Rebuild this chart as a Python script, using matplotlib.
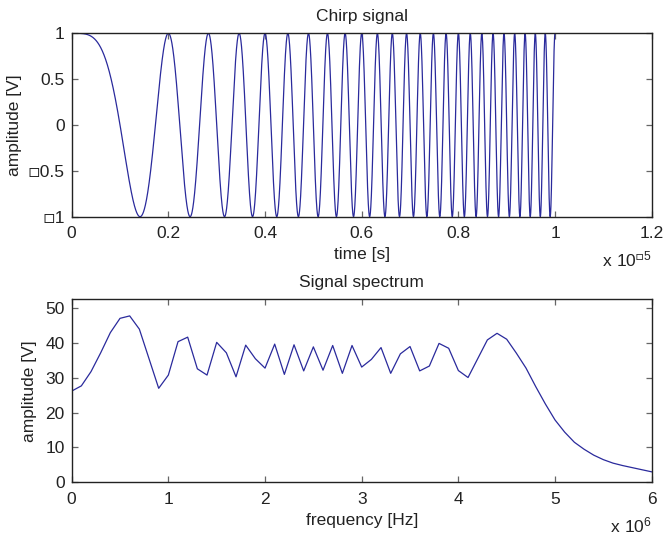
import numpy as np
import matplotlib
matplotlib.use("Agg")
import matplotlib.pyplot as plt

plt.rcParams['font.family'] = ['Liberation Sans', 'DejaVu Sans']
plt.rcParams['mathtext.fontset'] = 'custom'
plt.rcParams['mathtext.rm'] = 'Liberation Sans'

BOX = '\u25fd'

# --- chirp parameters ---
chirp_f_start = 0.0        # Hz
chirp_f_end = 5.0e6        # Hz
chirp_duration = 1.0e-5    # s

time_ticks = [0, 0.2e-5, 0.4e-5, 0.6e-5, 0.8e-5, 1.0e-5, 1.2e-5]
time_tick_labels = ['0', '0.2', '0.4', '0.6', '0.8', '1', '1.2']
amp_ticks = [-1, -0.5, 0, 0.5, 1]
amp_tick_labels = [BOX + '1', BOX + '0.5', '0', '0.5', '1']

# --- magnitude spectrum, 0.1 MHz bins ---
freq_hz = np.round(np.arange(61) * 0.1, 1) * 1e6
spectrum = [
    26.2, 27.7, 31.8, 37.2, 43.0, 47.1, 47.8, 44.0, 35.5, 27.0,
    30.8, 40.4, 41.7, 32.6, 30.8, 40.2, 37.2, 30.3, 39.4, 35.5,
    32.8, 39.7, 31.0, 39.5, 32.0, 38.9, 32.2, 39.3, 31.3, 39.3,
    33.1, 35.3, 38.7, 31.3, 36.9, 39.0, 32.0, 33.4, 39.9, 38.5,
    32.1, 30.1, 35.5, 40.9, 42.8, 41.1, 37.1, 32.8, 27.5, 22.5,
    17.9, 14.4, 11.5, 9.5, 7.8, 6.5, 5.5, 4.8, 4.2, 3.6,
    3.0,
]
freq_ticks = [0, 1e6, 2e6, 3e6, 4e6, 5e6, 6e6]
freq_tick_labels = ['0', '1', '2', '3', '4', '5', '6']
spec_ticks = [0, 10, 20, 30, 40, 50]

line_color = '#2a2a9c'
text_color = '#222222'
fs = 12.5

fig = plt.figure(figsize=(6.65, 5.37), dpi=100)
ax1 = fig.add_axes([0.1078, 0.5965, 0.8722, 0.3415])
ax2 = fig.add_axes([0.1078, 0.1019, 0.8722, 0.3408])


def style(ax):
    for s in ax.spines.values():
        s.set_color(text_color)
        s.set_linewidth(1.0)
    ax.tick_params(direction='in', length=4, width=0.9, color='#666666',
                   top=True, right=True, labelsize=fs, labelcolor=text_color)
    ax.tick_params(axis='x', pad=7)
    ax.tick_params(axis='y', pad=5)


# chirp
t = np.linspace(0, chirp_duration, 6001)
rate = (chirp_f_end - chirp_f_start) / chirp_duration
signal = np.cos(2 * np.pi * (chirp_f_start * t + 0.5 * rate * t ** 2))
ax1.plot(t, signal, color=line_color, lw=0.9)
ax1.set_xlim(0, 1.2e-5)
ax1.set_ylim(-1, 1)
ax1.set_xticks(time_ticks)
ax1.set_xticklabels(time_tick_labels)
ax1.set_yticks(amp_ticks)
ax1.set_yticklabels(amp_tick_labels)
ax1.set_title('Chirp signal', fontsize=fs, color=text_color, pad=9)
ax1.set_xlabel('time [s]', fontsize=fs, color=text_color, labelpad=4)
ax1.set_ylabel('amplitude [V]', fontsize=fs, color=text_color)
ax1.yaxis.set_label_coords(-0.0855, 0.5)
style(ax1)
ax1.text(1.0, -0.18, '$\\mathregular{x\\ 10^{' + BOX + '5}}$', transform=ax1.transAxes,
         ha='right', va='top', fontsize=fs, color=text_color)

# spectrum
ax2.plot(freq_hz, spectrum, color=line_color, lw=0.9)
ax2.set_xlim(0, 6e6)
ax2.set_ylim(0, 1.1 * max(spectrum))
ax2.set_xticks(freq_ticks)
ax2.set_xticklabels(freq_tick_labels)
ax2.set_yticks(spec_ticks)
ax2.set_title('Signal spectrum', fontsize=fs, color=text_color, pad=9)
ax2.set_xlabel('frequency [Hz]', fontsize=fs, color=text_color, labelpad=4)
ax2.set_ylabel('amplitude [V]', fontsize=fs, color=text_color)
ax2.yaxis.set_label_coords(-0.0598, 0.5)
style(ax2)
ax2.text(1.0, -0.18, '$\\mathregular{x\\ 10^{6}}$', transform=ax2.transAxes,
         ha='right', va='top', fontsize=fs, color=text_color)

fig.savefig('out.png', dpi=100)
